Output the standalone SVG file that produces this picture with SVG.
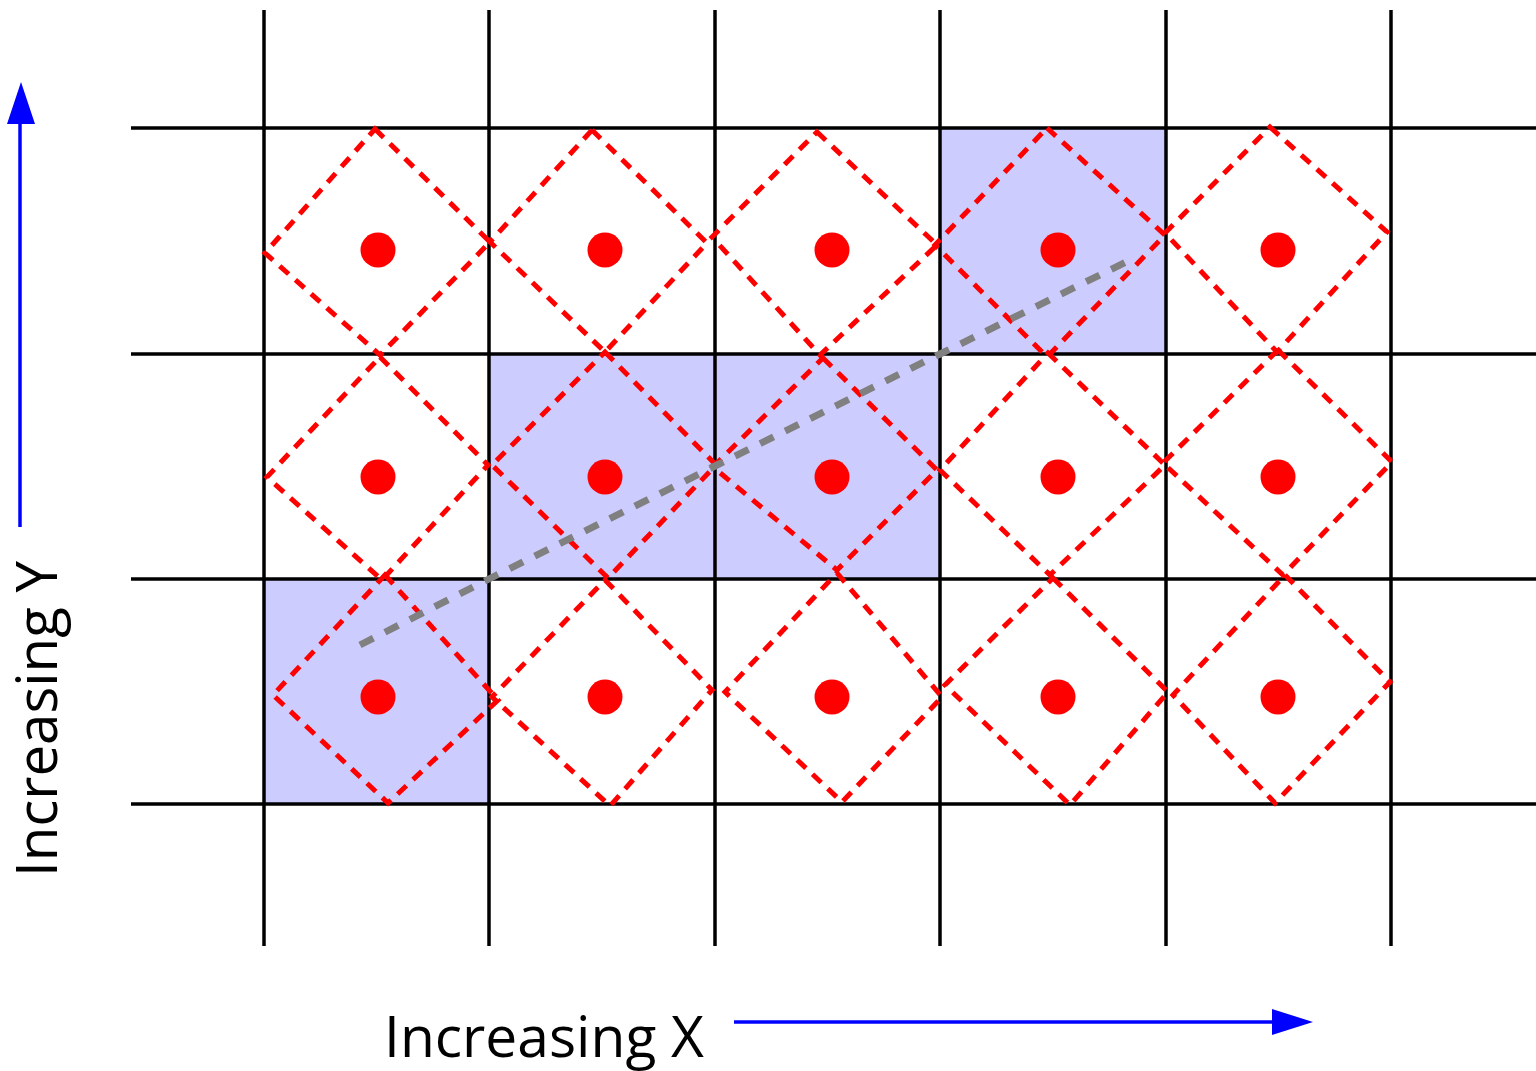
<svg xmlns="http://www.w3.org/2000/svg" width="1536" height="1071" viewBox="0 0 1536 1071">
<style>
.cell{fill:#ccccff;stroke:none}
.grid{stroke:#000;stroke-width:3.5;fill:none}
.dia{fill:none;stroke:#ff0000;stroke-width:5;stroke-dasharray:12 9}
.dot{fill:#ff0000}
.path{fill:none;stroke:#808080;stroke-width:7;stroke-dasharray:15 13}
.axis{stroke:#0000ff;stroke-width:3.5;fill:none}
.head{fill:#0000ff}
.lbl{font-family:"Open Sans","Liberation Sans",Arial,sans-serif;font-size:56px;fill:#000}
</style>
<rect width="1536" height="1071" fill="#fff"/>
<g id="cells">
<rect class="cell" x="940" y="128" width="226" height="226"/>
<rect class="cell" x="489" y="354" width="226" height="225"/>
<rect class="cell" x="715" y="354" width="225" height="225"/>
<rect class="cell" x="264" y="579" width="225" height="225"/>
</g>
<g id="grid" class="grid">
<line x1="264" y1="10" x2="264" y2="946"/>
<line x1="489" y1="10" x2="489" y2="946"/>
<line x1="715" y1="10" x2="715" y2="946"/>
<line x1="940" y1="10" x2="940" y2="946"/>
<line x1="1166" y1="10" x2="1166" y2="946"/>
<line x1="1391" y1="10" x2="1391" y2="946"/>
<line x1="131" y1="128" x2="1536" y2="128"/>
<line x1="131" y1="354" x2="1536" y2="354"/>
<line x1="131" y1="579" x2="1536" y2="579"/>
<line x1="131" y1="804" x2="1536" y2="804"/>
</g>
<g id="diamonds">
<polygon class="dia" points="375,129 490,242 380,355 265,253"/>
<polygon class="dia" points="592,130 707,243 605,352 490,242"/>
<polygon class="dia" points="817,132 937,245 820,355 712,237"/>
<polygon class="dia" points="1047,128 1165,235 1047,357 935,245"/>
<polygon class="dia" points="1270,127 1387,232 1277,352 1165,233"/>
<polygon class="dia" points="380,357 488,465 382,580 267,477"/>
<polygon class="dia" points="605,352 716,465 608,578 492,465"/>
<polygon class="dia" points="823,358 937,470 837,570 713,467"/>
<polygon class="dia" points="1048,353 1165,465 1050,575 940,470"/>
<polygon class="dia" points="1278,350 1392,462 1283,575 1163,463"/>
<polygon class="dia" points="385,575 498,700 388,803 273,695"/>
<polygon class="dia" points="605,580 712,690 610,806 492,697"/>
<polygon class="dia" points="837,573 942,697 842,802 725,692"/>
<polygon class="dia" points="1053,578 1168,692 1070,805 945,685"/>
<polygon class="dia" points="1285,575 1390,682 1275,803 1173,695"/>
</g>
<g id="dots" class="dot">
<circle cx="378" cy="250" r="17.5"/>
<circle cx="605" cy="250" r="17.5"/>
<circle cx="832" cy="250" r="17.5"/>
<circle cx="1058" cy="250" r="17.5"/>
<circle cx="1278" cy="250" r="17.5"/>
<circle cx="378" cy="477" r="17.5"/>
<circle cx="605" cy="477" r="17.5"/>
<circle cx="832" cy="477" r="17.5"/>
<circle cx="1058" cy="477" r="17.5"/>
<circle cx="1278" cy="477" r="17.5"/>
<circle cx="378" cy="697" r="17.5"/>
<circle cx="605" cy="697" r="17.5"/>
<circle cx="832" cy="697" r="17.5"/>
<circle cx="1058" cy="697" r="17.5"/>
<circle cx="1278" cy="697" r="17.5"/>
</g>
<g id="connectors">
<polyline class="path" points="360,645 489,579 715,466 940,354 1128,261"/>
<line class="axis" x1="20" y1="527" x2="20" y2="120"/>
<polygon class="head" points="21,82 35,124 7,124"/>
<line class="axis" x1="734" y1="1022" x2="1276" y2="1022"/>
<polygon class="head" points="1313,1022 1272,1009 1272,1035"/>
</g>
<g id="labels">
<text class="lbl" x="384" y="1057" textLength="320" lengthAdjust="spacingAndGlyphs">Increasing X</text>
<text class="lbl" transform="translate(57,877) rotate(-90)" x="0" y="0" textLength="316" lengthAdjust="spacingAndGlyphs">Increasing Y</text>
</g>
</svg>
